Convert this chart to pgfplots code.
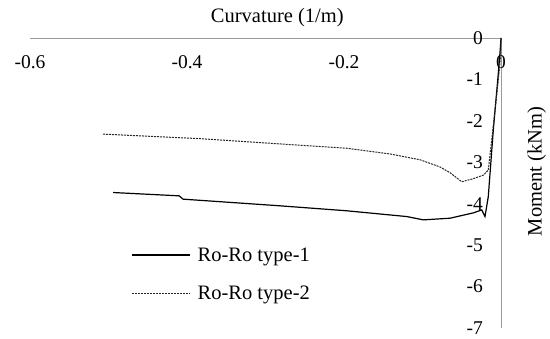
\documentclass[border=0pt]{standalone}
\usepackage{pgfplots}
\pgfplotsset{compat=1.18}
\usepackage{fontspec}
\setmainfont{Liberation Serif}
\begin{document}
\begin{tikzpicture}
\useasboundingbox (0bp,0bp) rectangle (550bp,339bp);
\begin{axis}[
  at={(30bp,11bp)}, anchor=south west,
  scale only axis, width=471bp, height=290bp,
  xmin=-0.6, xmax=0, ymin=-7, ymax=0,
  axis lines=middle,
  axis line style={-, draw=black!40, line width=0.9bp},
  xtick={-0.6,-0.4,-0.2,0}, xticklabels={{-0.6},{-0.4},{-0.2},{0}},
  ytick={-7,-6,-5,-4,-3,-2,-1,0}, yticklabels={{-7},{-6},{-5},{-4},{-3},{-2},{-1},{0}},
  hide obscured x ticks=false, hide obscured y ticks=false,
  major tick length=0pt,
  xticklabel shift=17bp, yticklabel shift=18bp,
  xticklabel style={anchor=north, inner sep=0pt, font=\fontsize{19.5bp}{22bp}\selectfont},
  yticklabel style={anchor=east, inner sep=0pt, font=\fontsize{19.5bp}{22bp}\selectfont},
  clip=false,
  legend style={draw=none, fill=none, at={(rel axis cs:0.215,0.285)}, anchor=north west,
    font=\fontsize{20.5bp}{24bp}\selectfont, row sep=19bp, inner sep=0pt,
    nodes={inner sep=2bp}, /tikz/every odd column/.append style={column sep=5bp}},
  legend cell align=left,
  legend image code/.code={\draw[#1] (0bp,0bp) -- (58bp,0bp);},
]
\addplot[black, line width=1.2bp] coordinates {
(-0.494,-3.73) (-0.410,-3.81) (-0.405,-3.89) (-0.282,-4.05) (-0.197,-4.17)
(-0.120,-4.31) (-0.099,-4.39) (-0.065,-4.35) (-0.035,-4.22) (-0.0246,-4.15)
(-0.0204,-4.31) (-0.0162,-3.83) (-0.0098,-2.22) (-0.0034,-0.85) (-0.001,-0.29) (0,0)
};
\addlegendentry{Ro-Ro type-1}
\addplot[black!85, line width=1bp, dash pattern=on 2bp off 1bp] coordinates {
(-0.507,-2.32) (-0.383,-2.43) (-0.271,-2.57) (-0.197,-2.66) (-0.141,-2.80)
(-0.103,-2.94) (-0.078,-3.11) (-0.065,-3.25) (-0.050,-3.47) (-0.036,-3.40)
(-0.0225,-3.31) (-0.0162,-3.19) (-0.0118,-2.46) (-0.0034,-1.01) (-0.0005,-0.45) (0,0)
};
\addlegendentry{Ro-Ro type-2}
\node[font=\fontsize{20.5bp}{24bp}\selectfont, anchor=center, yshift=20bp] at (rel axis cs:0.525,1) {Curvature (1/m)};
\node[font=\fontsize{20.5bp}{24bp}\selectfont, xshift=35.7bp, rotate=90, anchor=center] at (rel axis cs:1,0.54) {Moment (kNm)};
\end{axis}
\end{tikzpicture}
\end{document}
